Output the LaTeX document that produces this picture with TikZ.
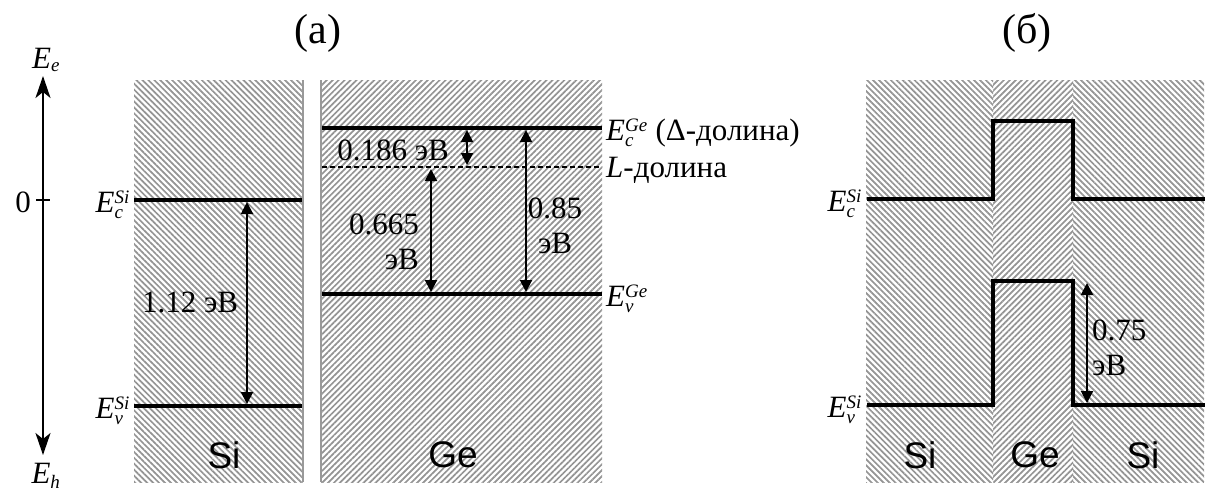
\documentclass[tikz,border=0pt]{standalone}
\usepackage{fontspec}
\setmainfont{Liberation Serif}
\setsansfont{Liberation Sans}
\usetikzlibrary{patterns.meta,arrows.meta}
\newcommand\lvl[2]{\textit{E}$_{\hbox{\fontsize{19}{19}\selectfont\itshape #1}}^{\hbox{\fontsize{19}{19}\selectfont\itshape #2}}$}
\begin{document}
\begin{tikzpicture}[x=1pt,y=-1pt,
  hatchNW/.style={pattern={Lines[angle=-45,distance=4.2pt,line width=1.7pt]},pattern color=black!42},
  hatchNE/.style={pattern={Lines[angle=45,distance=4.2pt,line width=1.7pt]},pattern color=black!42},
  level/.style={line width=3.2pt},
  meas/.style={line width=2pt,{Triangle[length=12pt,width=12pt]}-{Triangle[length=12pt,width=12pt]}},
  txt/.style={font=\fontsize{31}{35}\selectfont,inner sep=0pt},
  mat/.style={font=\sffamily\fontsize{37}{40}\selectfont,inner sep=0pt},
  lab/.style={font=\fontsize{31}{33}\selectfont,inner sep=1pt}]
\useasboundingbox (0,0) rectangle (1214,496);
\fill[white] (0,0) rectangle (1214,496);
% hatched regions
\fill[hatchNW] (134,80) rectangle (303,482);
\fill[hatchNE] (321,80) rectangle (602,482);
\fill[hatchNW] (866,80) rectangle (993,482);
\fill[hatchNE] (993,80) rectangle (1073,482);
\fill[hatchNW] (1073,80) rectangle (1204,482);
\draw[black!40,line width=2.2pt] (303,80) -- (303,482);
\draw[black!40,line width=2.2pt] (321,80) -- (321,482);
% titles
\node[font=\fontsize{42}{46}\selectfont,inner sep=0pt] (ta) at (318,33) {(а)};
\node[font=\fontsize{42}{46}\selectfont,inner sep=0pt] (tb) at (1027,33) {(б)};
% axis
\coordinate (axB) at (43,455);
\coordinate (axT) at (43,76);
\draw[line width=2pt,{Stealth[length=22pt,width=15pt,inset=6pt]}-{Stealth[length=22pt,width=15pt,inset=6pt]}] (axB) -- (axT);
\coordinate (tk1) at (36,200);
\coordinate (tk2) at (50,200);
\draw[line width=2pt] (tk1) -- (tk2);
\node[txt,anchor=east] (zero) at (31,202) {0};
\node[lab] (Ee) at (46,60) {\textit{E}$_{\hbox{\fontsize{19}{19}\selectfont\itshape e}}$};
\node[lab] (Eh) at (46,476) {\textit{E}$_{\hbox{\fontsize{19}{19}\selectfont\itshape h}}$};
% Si panel (a)
\coordinate (sc1) at (134,200); \coordinate (sc2) at (302,200);
\coordinate (sv1) at (134,406); \coordinate (sv2) at (302,406);
\draw[level] (sc1) -- (sc2);
\draw[level] (sv1) -- (sv2);
\coordinate (sa1) at (247,202); \coordinate (sa2) at (247,404);
\draw[meas] (sa1) -- (sa2);
\node[txt] (g112) at (190,302) {1.12 эВ};
\node[lab,anchor=east] (EcSi) at (131,205) {\lvl{c}{Si}};
\node[lab,anchor=east] (EvSi) at (131,411) {\lvl{v}{Si}};
\node[mat] (Si1) at (224,455) {Si};
% Ge panel (a)
\coordinate (gc1) at (322,128); \coordinate (gc2) at (602,128);
\coordinate (gl1) at (322,167); \coordinate (gl2) at (602,167);
\coordinate (gv1) at (322,294); \coordinate (gv2) at (602,294);
\draw[level] (gc1) -- (gc2);
\draw[line width=1.6pt,dash pattern=on 5pt off 3pt] (gl1) -- (gl2);
\draw[level] (gv1) -- (gv2);
\coordinate (a1t) at (467,130); \coordinate (a1b) at (467,165);
\coordinate (a2t) at (431,169); \coordinate (a2b) at (431,292);
\coordinate (a3t) at (526,130); \coordinate (a3b) at (526,292);
\draw[meas] (a1t) -- (a1b);
\draw[meas] (a2t) -- (a2b);
\draw[meas] (a3t) -- (a3b);
\node[txt] (g186) at (393,150) {0.186 эВ};
\node[txt,align=right,anchor=east] (g665) at (419,242) {0.665\\эВ};
\node[txt,align=center] (g85) at (555,226) {0.85\\эВ};
\node[lab,anchor=west] (EcGe) at (605,133) {\lvl{c}{Ge} (Δ-долина)};
\node[lab,anchor=west] (Ldol) at (605,170) {\textit{L}-долина};
\node[lab,anchor=west] (EvGe) at (605,299) {\lvl{v}{Ge}};
\node[mat] (Ge1) at (453,455) {Ge};
% panel (b)
\coordinate (b1) at (867,199); \coordinate (b2) at (993,199);
\coordinate (b3) at (993,121); \coordinate (b4) at (1073,121);
\coordinate (b5) at (1073,199); \coordinate (b6) at (1205,199);
\draw[level,line join=miter] (b1) -- (b2) -- (b3) -- (b4) -- (b5) -- (b6);
\coordinate (c1) at (867,405); \coordinate (c2) at (993,405);
\coordinate (c3) at (993,281); \coordinate (c4) at (1073,281);
\coordinate (c5) at (1073,405); \coordinate (c6) at (1205,405);
\draw[level,line join=miter] (c1) -- (c2) -- (c3) -- (c4) -- (c5) -- (c6);
\coordinate (d1) at (1087,283); \coordinate (d2) at (1087,403);
\draw[meas] (d1) -- (d2);
\node[txt,align=left,anchor=west] (g75) at (1092,348) {0.75\\эВ};
\node[lab,anchor=east] (EcSi2) at (863,204) {\lvl{c}{Si}};
\node[lab,anchor=east] (EvSi2) at (863,410) {\lvl{v}{Si}};
\node[mat] (Si2) at (920,455) {Si};
\node[mat] (Ge2) at (1035,455) {Ge};
\node[mat] (Si3) at (1143,455) {Si};
\end{tikzpicture}
\end{document}
